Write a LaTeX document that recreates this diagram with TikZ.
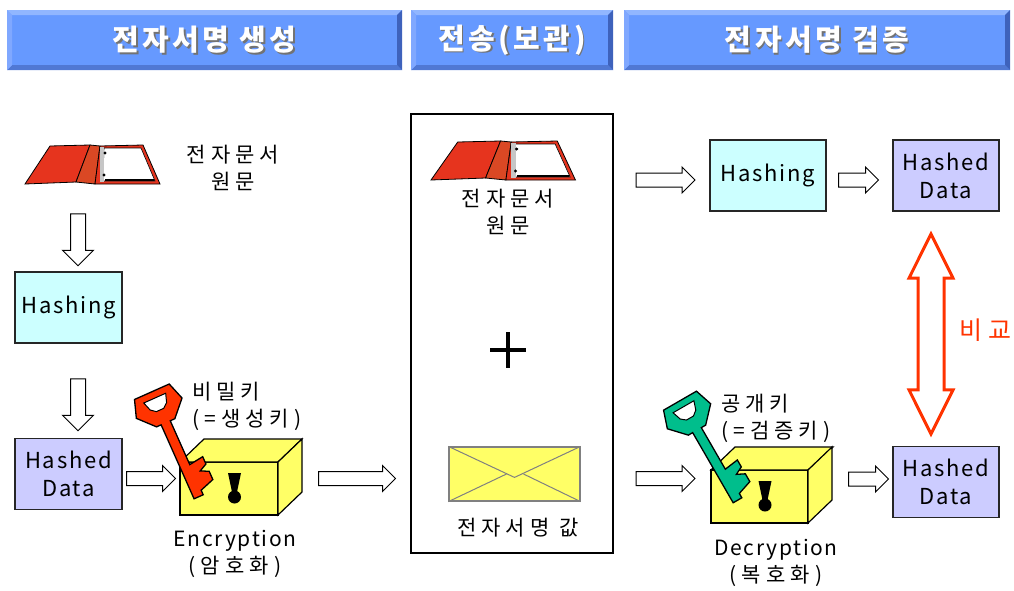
\documentclass[tikz,border=0pt]{standalone}
\usepackage{fontspec}
\setmainfont{Noto Sans CJK KR}[LetterSpace=8]
\newfontfamily\kr{Noto Sans CJK KR}[LetterSpace=24]
\newfontfamily\headfont{Noto Sans CJK KR}[LetterSpace=12]
\usetikzlibrary{shapes.arrows,calc}

\definecolor{barblue}{RGB}{102,153,255}
\definecolor{bartop}{RGB}{145,182,255}
\definecolor{barleft}{RGB}{128,168,255}
\definecolor{barbottom}{RGB}{80,120,212}
\definecolor{barright}{RGB}{62,98,188}
\definecolor{hashcyan}{RGB}{204,255,255}
\definecolor{datablue}{RGB}{204,204,255}
\definecolor{boxyellow}{RGB}{255,255,102}
\definecolor{binderred}{RGB}{230,52,30}
\definecolor{spinered}{RGB}{218,72,36}
\definecolor{keyred}{RGB}{255,51,0}
\definecolor{keygreen}{RGB}{0,190,140}
\definecolor{cmpred}{RGB}{255,51,0}

\begin{document}
\begin{tikzpicture}[x=1pt,y=-1pt,
  font=\fontsize{21}{27}\selectfont,
  header/.style={fill=barblue,minimum height=60pt,inner sep=0pt,outer sep=0pt},
  headtext/.style={font=\fontsize{29}{29}\selectfont\headfont\bfseries,text=white,inner sep=0pt},
  box/.style={draw=black!85,line width=1.3pt,align=center,inner sep=0pt,outer sep=0pt,
    minimum width=107pt,minimum height=71pt,font=\fontsize{22}{28}\selectfont},
  hashbox/.style={box,fill=hashcyan},
  databox/.style={box,fill=datablue},
  cube/.style={draw,line width=1.2pt,fill=boxyellow,minimum width=98pt,minimum height=53pt,
    inner sep=0pt,outer sep=0pt},
  barrow/.style={single arrow,draw,line width=1pt,fill=white,inner xsep=0pt,inner ysep=6.5pt,
    single arrow head extend=6pt},
  downarrow/.style={barrow,inner ysep=7pt,single arrow head extend=8pt,rotate=-90,
    minimum height=52pt},
  txt/.style={align=center,inner sep=1pt},
  krtxt/.style={txt,font=\fontsize{21}{27}\selectfont\kr},
  pics/binder/.style={code={
    \draw[line width=.8pt,fill=binderred] (0,0) -- (25,-38) -- (65,-39) -- (51,-2) -- cycle;
    \draw[line width=.8pt,fill=spinered] (51,-2) -- (65,-39) -- (75,-38) -- (70,0) -- cycle;
    \draw[line width=.8pt,fill=binderred] (70,0) -- (75,-38) -- (118,-39) -- (135,0) -- cycle;
    \draw[line width=.6pt,fill=white] (78,-3) -- (79,-36) -- (116,-36) -- (130,-3) -- cycle;
    \fill[gray!45] (74.5,-37) rectangle (79,-2);
    \fill (80,-31) circle (1.6);
    \fill (79,-9) circle (1.6);
    \draw[line width=2pt] (80,-4.5) -- (129,-4.5);
  }},
  pics/key/.style={code={
    \filldraw[fill=#1,line width=1.3pt] (-10,14) -- (-25,-2) -- (-19,-20) -- (19,-20) -- (25,-2)
      -- (10,14) -- (5,14) -- (5,62) -- (20,60) -- (20,68) -- (12,72) -- (20,76) -- (20,85)
      -- (5,90) -- (5,95) -- (-5,95) -- (-5,14) -- cycle;
    \filldraw[fill=white,line width=1pt] (-12,-13) -- (12,-13) -- (9,-4) -- (4,0) -- (-4,0)
      -- (-9,-4) -- cycle;
  }}
]
\useasboundingbox (0,0) rectangle (1014,590);

% title bars
\foreach \h/\w/\x/\t in {h1/395/204.5/전자서명 생성, h2/202/512/전송(보관), h3/386/817/전자서명 검증} {
  \node[header,minimum width=\w pt] (\h) at (\x,40) {};
  \fill[bartop] (\h.north west) -- (\h.north east) -- ([xshift=-5pt,yshift=-5pt]\h.north east)
    -- ([xshift=5pt,yshift=-5pt]\h.north west) -- cycle;
  \fill[barbottom] (\h.south west) -- (\h.south east) -- ([xshift=-5pt,yshift=5pt]\h.south east)
    -- ([xshift=5pt,yshift=5pt]\h.south west) -- cycle;
  \fill[barleft] (\h.north west) -- ([xshift=5pt,yshift=-5pt]\h.north west)
    -- ([xshift=5pt,yshift=5pt]\h.south west) -- (\h.south west) -- cycle;
  \fill[barright] (\h.north east) -- ([xshift=-5pt,yshift=-5pt]\h.north east)
    -- ([xshift=-5pt,yshift=5pt]\h.south east) -- (\h.south east) -- cycle;
  \node[headtext,text=black!55] at ([xshift=1.6pt,yshift=-1.6pt]\h.center) {\t};
  \node[headtext] (\h-text) at (\h.center) {\t};
}

% signing side
\pic at (25,184) {binder};
\node[krtxt] (doc1) at (233,168) {전자문서\\원문};
\node[downarrow] (a1) at (78,236) {};
\node[hashbox] (hash1) at (68.5,307.5) {Hashing};
\node[downarrow] (a2) at (78,401) {};
\node[databox] (hd1) at (68.5,474) {Hashed\\Data};
\node[barrow,minimum height=49pt] (a3) at (147.5,478.5) {};
\node[cube] (enc) at (229,488.5) {};
\node[krtxt,align=left,anchor=west] (prikey) at (191,406) {비밀키\\(=생성키)};
\node[txt] (enctxt) at (235,554) {Encryption\\{\kr (암호화)}};
\node[barrow,minimum height=77pt] (a4) at (353.5,478.5) {};

% transmitted bundle
\node[draw,line width=1.3pt,minimum width=202pt,minimum height=439pt] (panel) at (512,333.5) {};
\pic[xscale=1.07] at (431,180) {binder};
\node[krtxt] (doc2) at (508,212) {전자문서\\원문};
\coordinate (plus) at (508,350);
\draw[line width=3.5pt] ($(plus)+(-18,0)$) -- ($(plus)+(18,0)$)
  ($(plus)+(0,-18)$) -- ($(plus)+(0,18)$);
\node[draw=black!50,line width=1.2pt,fill=boxyellow,minimum width=131pt,minimum height=54pt]
  (env) at (514.5,474) {};
\draw[black!50,line width=1pt] (env.north west) -- ($(env.north)+(0,31)$) -- (env.north east);
\draw[black!50,line width=1pt] (env.south west) -- ($(env.center)+(-8,0)$)
  (env.south east) -- ($(env.center)+(9,0)$);
\node[krtxt] (sig) at (518,528) {전자서명 값};

% verifying side
\node[barrow,minimum height=59pt] (a5) at (662,180) {};
\node[hashbox,minimum width=116pt] (hash2) at (768,175.5) {Hashing};
\node[barrow,minimum height=40pt] (a6) at (855,180) {};
\node[databox,minimum width=106pt] (hdt) at (946,175.5) {Hashed\\Data};
\node[barrow,minimum height=59pt] (a7) at (662,478.5) {};
\node[cube,minimum width=97pt] (dec) at (759.5,496.5) {};
\node[krtxt,align=left,anchor=west] (pubkey) at (720,418) {공개키\\(=검증키)};
\node[txt] (dectxt) at (776,563) {Decryption\\{\kr (복호화)}};
\node[barrow,minimum height=40pt] (a8) at (865,479) {};
\node[databox,minimum width=106pt] (hdb) at (946,482) {Hashed\\Data};

% box sides and keyholes
\foreach \c in {enc,dec} {
  \draw[line width=1.2pt,fill=boxyellow] (\c.north west) -- ++(24,-23) -- ++(98,0)
    -- (\c.north east) -- cycle;
  \draw[line width=1.2pt,fill=boxyellow] (\c.north east) -- ++(24,-23) -- ++(0,53)
    -- (\c.south east) -- cycle;
  \fill (\c.center) ++(-1,-15.5) -- ++(13,0) -- ++(-4,19) -- ++(-5,0) -- cycle;
  \fill (\c.center) ++(5.5,8.5) circle (6.5);
}
\pic[rotate=24] at (160,410) {key=keyred};
\pic[rotate=30] at (690,418) {key=keygreen};

% comparison
\node[double arrow,draw=cmpred,line width=3pt,fill=white,rotate=90,inner xsep=0pt,
  inner ysep=11.5pt,minimum height=200pt,double arrow head extend=9pt,double arrow tip angle=53]
  (cmparrow) at (931,334) {};
\node[krtxt,text=cmpred,font=\fontsize{25}{25}\selectfont\kr] (cmp) at (985,330) {비교};
\end{tikzpicture}
\end{document}
